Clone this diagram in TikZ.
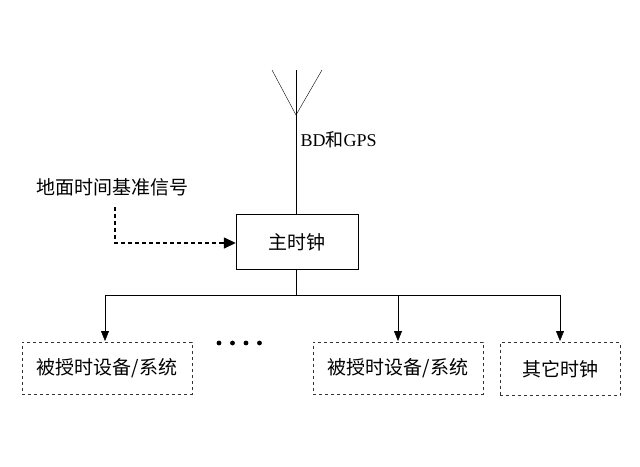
\documentclass[tikz,border=0pt]{standalone}
\usepackage{fontspec}
\setmainfont{Liberation Serif}
\newfontfamily\cjk{Noto Sans CJK SC}
\usetikzlibrary{arrows.meta}
\begin{document}
\begin{tikzpicture}[x=1pt,y=-1pt,
  txt/.style={font=\cjk\fontsize{19}{21}\selectfont},
  box/.style={draw,thin,minimum height=52pt,inner sep=0pt,txt},
  dbox/.style={box,dashed,draw=black!80},
  arr/.style={-{Triangle[length=10pt,width=8pt]}}]
\useasboundingbox (0,0) rectangle (640,466);
\node[box,minimum width=122pt,minimum height=55pt] (m) at (297,242) {主时钟};
\node[dbox,minimum width=170pt] (b1) at (107,368) {被授时设备/系统};
\node[dbox,minimum width=170pt] (b2) at (398,368) {被授时设备/系统};
\node[dbox,minimum width=120pt,minimum height=53pt] (b3) at (560,369) {其它时钟};
\coordinate (top) at (296,70);
\coordinate (vl) at (272,70);
\coordinate (vr) at (322,70);
\coordinate (vb) at (296,115);
\draw (top) -- (m.north -| top);
\draw (vl) -- (vb) -- (vr);
\node[anchor=west,font=\fontsize{18}{20}\selectfont] (gps) at (297,140) {BD{\cjk 和}GPS};
\node[txt] (g) at (112,187) {地面时间基准信号};
\coordinate (d1) at (115,207);
\coordinate (d2) at (115,243);
\draw[line width=2.4pt,dash pattern=on 4pt off 3pt] (d1) -- (d2) -- (222,243);
\draw[-{Triangle[length=12pt,width=11pt]},line width=1.5pt] (220,243) -- (m.west|-d2);
\coordinate (bus) at (296,295);
\draw (m.south -| bus) -- (bus);
\draw (105,295) -- (560,295);
\draw[arr] (105,295) -- (105,341);
\draw[arr] (398,295) -- (398,341);
\draw[arr] (560,295) -- (560,341);
\foreach \i in {0,1,2,3} \fill (219+\i*13.5,343) circle (2.4pt);
\end{tikzpicture}
\end{document}
